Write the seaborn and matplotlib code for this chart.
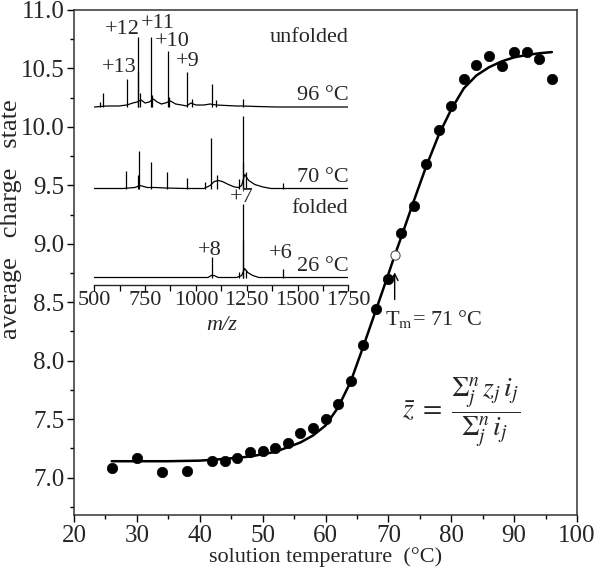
import matplotlib
matplotlib.use("Agg")
import matplotlib.pyplot as plt
import seaborn as sns
import numpy as np

# ---------------- data ----------------
T_pts = [26, 30, 34, 38, 42, 44, 46, 48, 50, 52, 54, 56, 58, 60, 62, 64,
         66, 68, 70, 72, 74, 76, 78, 80, 82, 84, 86, 88, 90, 92, 94, 96]
z_pts = [7.08, 7.17, 7.045, 7.06, 7.145, 7.145, 7.17, 7.215, 7.225, 7.25, 7.30,
         7.38, 7.42, 7.50, 7.63, 7.83, 8.13, 8.44, 8.70, 9.09, 9.32, 9.68,
         9.97, 10.18, 10.41, 10.53, 10.61, 10.52, 10.64, 10.64, 10.58, 10.41]
Tm_T = [71]
Tm_z = [8.905]

curve_T = [26, 30, 35, 40, 44, 48, 52, 56, 58, 60, 62, 64, 66, 68, 70, 71, 72,
           74, 76, 78, 80, 82, 84, 86, 88, 90, 92, 94, 96]
curve_z = [7.14, 7.14, 7.14, 7.145, 7.16, 7.18, 7.22, 7.30, 7.36, 7.445, 7.60,
           7.82, 8.12, 8.43, 8.74, 8.90, 9.05, 9.36, 9.66, 9.93, 10.15, 10.33,
           10.44, 10.51, 10.56, 10.595, 10.615, 10.63, 10.64]

# inset mass spectra (m/z, relative peak height)
mz_96 = [530, 541, 659, 714, 717, 724, 777, 783, 861, 868, 955, 980, 1078, 1100, 1230]
h_96 = [5, 14, 28, 36, 70, 14, 70, 12, 56, 10, 35, 8, 23, 7, 8]
env_mz_96 = [500, 560, 620, 660, 690, 710, 730, 750, 770, 790, 810, 830, 850, 875,
             900, 930, 955, 975, 1000, 1040, 1070, 1100, 1150, 1200, 1230, 1300, 1400, 1750]
env_h_96 = [0, 1, 1, 2, 4, 5, 7, 4, 5, 8, 5, 3, 4, 6, 3, 2, 1, 4, 2, 2, 3, 2, 1.5,
            1, 1, 0.5, 0, 0]

mz_70 = [656, 716, 718, 779, 859, 955, 1045, 1076, 1102, 1212, 1230, 1232, 1245, 1427]
h_70 = [17.5, 14, 38, 27, 16.5, 11, 7, 51, 14, 10, 72.5, 27, 17, 6]
env_mz_70 = [500, 640, 700, 725, 760, 800, 850, 950, 1040, 1070, 1090, 1110, 1130,
             1160, 1190, 1210, 1225, 1240, 1260, 1290, 1330, 1370, 1400, 1750]
env_h_70 = [0, 0, 1, 3, 1, 1, 0.5, 0, 0, 3, 7, 8, 7, 4, 1.5, 1, 3, 14, 8, 4, 1.5, 0, 0, 0]

mz_26 = [1078, 1212, 1230, 1232, 1245, 1430]
h_26 = [21, 6, 74, 38, 8, 9]
env_mz_26 = [500, 1060, 1075, 1090, 1110, 1200, 1225, 1240, 1255, 1280, 1310, 1750]
env_h_26 = [0, 0, 2, 2, 0, 0, 2, 9, 5, 2, 0, 0]

spec_offsets = [178, 96.5, 7.5]   # 96 C, 70 C, 26 C
spec_labels = ["96 °C", "70 °C", "26 °C"]
charge_labels = ["+13", "+12", "+11", "+10", "+9", "+8", "+7", "+6"]
charge_pos = [(621, 217), (638, 256), (811, 262), (885, 243), (960, 223),
              (1069, 35), (1225, 88), (1417, 32)]

# ---------------- style ----------------
sns.set_theme(style="ticks")
plt.rcParams["font.family"] = ["Liberation Serif", "DejaVu Serif"]
plt.rcParams["mathtext.fontset"] = "stix"
plt.rcParams["axes.linewidth"] = 1.1

fig = plt.figure(figsize=(6, 5.76), dpi=100)
ax = fig.add_axes([74 / 600, 1 - 515 / 576, 503 / 600, 505 / 576])

sns.lineplot(x=curve_T, y=curve_z, ax=ax, color="black", lw=1.8, zorder=2)
sns.scatterplot(x=T_pts, y=z_pts, ax=ax, color="black", s=56,
                edgecolor="black", linewidth=0.5, zorder=3)
sns.scatterplot(x=Tm_T, y=Tm_z, ax=ax, color="white", s=44,
                edgecolor="#555555", linewidth=0.8, zorder=4)

ax.set_xlim(20, 100)
ax.set_ylim(6.68, 11.0)
ax.set_xticks(np.arange(20, 101, 10))
ax.set_xticks(np.arange(20, 101, 5), minor=True)
ax.set_yticks(np.arange(7.0, 11.01, 0.5))
ax.set_yticks(np.arange(6.75, 11.01, 0.25), minor=True)
ax.set_yticklabels([f"{v:.1f}" for v in np.arange(7.0, 11.01, 0.5)])
ax.tick_params(axis="both", which="major", direction="out", length=5, width=1.0,
               labelsize=18, color="black", pad=2)
ax.tick_params(axis="both", which="minor", direction="out", length=3, width=1.0,
               color="black")
for s in ax.spines.values():
    s.set_color("#333333")
ax.set_xlabel("solution temperature  (°C)", fontsize=16, labelpad=0)
ax.set_ylabel("average   charge   state", fontsize=19)
ax.yaxis.set_label_coords(-0.103, 0.585)

ax.annotate("", xy=(71, 8.78), xytext=(71, 8.50),
            arrowprops=dict(arrowstyle="->", color="black", lw=1.0))
ax.text(69.4, 8.36, r"T$_{\mathrm{m}}$= 71 °C", ha="left", va="center", fontsize=16)
ax.text(81.6, 7.557, r"$\bar{z}\;=\;\dfrac{\Sigma_j^n\, z_j\, i_j}{\Sigma_j^n\, i_j}$",
        ha="center", va="center", fontsize=20)

# ---------------- inset ----------------
ins = fig.add_axes([94.3 / 600, 1 - 285 / 576, 254 / 600, 265 / 576])
ins.patch.set_alpha(0)
ins.set_xlim(500, 1750)
ins.set_ylim(0, 265)
for side in ["left", "right", "top"]:
    ins.spines[side].set_visible(False)
ins.spines["bottom"].set_linewidth(1.0)
ins.set_yticks([])
ins.set_xticks(np.arange(500, 1751, 250))
ins.set_xticks(np.arange(500, 1751, 125), minor=True)
ins.tick_params(axis="x", which="both", direction="out", length=4, width=0.9,
                labelsize=16, pad=0.5, color="black")
ins.set_xlabel("m/z", fontsize=16, fontstyle="italic", labelpad=4)

spectra = [(mz_96, h_96, env_mz_96, env_h_96),
           (mz_70, h_70, env_mz_70, env_h_70),
           (mz_26, h_26, env_mz_26, env_h_26)]
for (mz, h, emz, eh), off in zip(spectra, spec_offsets):
    ins.plot(emz, [off + v for v in eh], color="black", lw=0.9)
    ins.vlines(mz, off, [off + v for v in h], color="black", lw=0.9)

for lab, off in zip(spec_labels, spec_offsets):
    ins.text(1750, off + 2, lab, ha="right", va="bottom", fontsize=16)
ins.text(1750, 247, "unfolded", ha="right", va="center", fontsize=16)
ins.text(1750, 77, "folded", ha="right", va="center", fontsize=16)
for lab, (x, y) in zip(charge_labels, charge_pos):
    ins.text(x, y, lab, ha="center", va="center", fontsize=16)

fig.savefig("out.png", dpi=100)
